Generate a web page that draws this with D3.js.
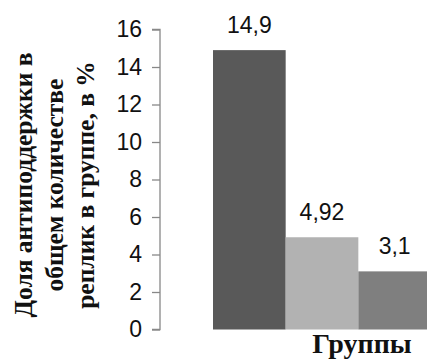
<!DOCTYPE html>
<html>
<head>
<meta charset="utf-8">
<script src="https://cdn.jsdelivr.net/npm/d3@7"></script>
<style>
  html, body { margin: 0; padding: 0; background: #fff; }
  svg { display: block; }
</style>
</head>
<body>
<svg id="chart" width="427" height="362"></svg>
<script>
// Groups and share of counter-support remarks (%)
const groups = ["Группа 1", "Группа 2", "Группа 3"];
const shares = [14.9, 4.92, 3.1];
const valueLabels = ["14,9", "4,92", "3,1"];
const barColors = ["#595959", "#b2b2b2", "#7f7f7f"];
const yTicks = [0, 2, 4, 6, 8, 10, 12, 14, 16];
const yTitleLines = ["Доля антиподдержки в", "общем количестве", "реплик в группе, в %"];
const xTitle = "Группы";

const svg = d3.select("#chart");

const plotLeft = 213, plotRight = 431;
const axisX = 160;
const y = d3.scaleLinear().domain([0, 16]).range([329.5, 29.5]);
const x = d3.scaleBand().domain(groups).range([plotLeft, plotRight]).padding(0);

// bars
svg.append("g").selectAll("rect")
  .data(groups)
  .join("rect")
  .attr("x", d => x(d))
  .attr("width", x.bandwidth())
  .attr("y", (d, i) => y(shares[i]))
  .attr("height", (d, i) => y(0) - y(shares[i]))
  .attr("fill", (d, i) => barColors[i]);

// value labels
svg.append("g").selectAll("text")
  .data(groups)
  .join("text")
  .attr("x", d => x(d) + x.bandwidth() / 2)
  .attr("y", (d, i) => y(shares[i]) - 17)
  .attr("text-anchor", "middle")
  .attr("font-family", "Liberation Sans, Arial, sans-serif")
  .attr("font-size", 23)
  .attr("fill", "#111")
  .text((d, i) => valueLabels[i]);

// y axis
const yAxis = d3.axisLeft(y).tickValues(yTicks).tickSize(8).tickPadding(10).tickFormat(d3.format("d"));
const ga = svg.append("g").attr("transform", `translate(${axisX},0)`).call(yAxis);
ga.select(".domain").attr("stroke", "#888").attr("stroke-width", 1.3).attr("d", `M-8,${y(16)}H0V${y(0)}H-8`);
ga.selectAll(".tick line").attr("stroke", "#888").attr("stroke-width", 1.3);
ga.selectAll(".tick text")
  .attr("font-family", "Liberation Sans, Arial, sans-serif")
  .attr("font-size", 23)
  .attr("fill", "#111");

// y title (three rotated lines)
const yTitle = svg.append("text")
  .attr("transform", "translate(0,185) rotate(-90)")
  .attr("text-anchor", "middle")
  .attr("font-family", "Liberation Serif, Times New Roman, serif")
  .attr("font-weight", "bold")
  .attr("font-size", 25.5)
  .attr("fill", "#111");
yTitleLines.forEach((line, i) => {
  yTitle.append("tspan").attr("x", 0).attr("y", 32 + i * 31).text(line);
});

// x title
svg.append("text")
  .attr("x", 362)
  .attr("y", 353)
  .attr("text-anchor", "middle")
  .attr("font-family", "Liberation Serif, Times New Roman, serif")
  .attr("font-weight", "bold")
  .attr("font-size", 28)
  .attr("fill", "#111")
  .text(xTitle);
</script>
</body>
</html>
